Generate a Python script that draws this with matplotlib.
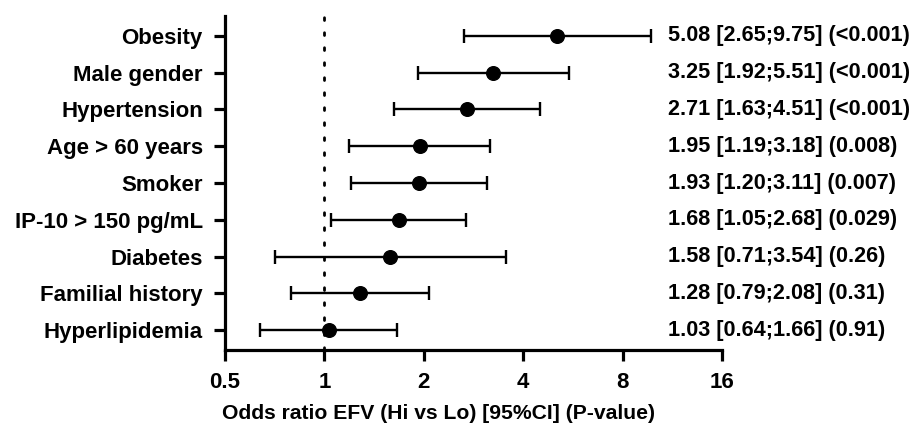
import matplotlib
matplotlib.use("Agg")
import matplotlib.pyplot as plt
import matplotlib.transforms as mtransforms
from matplotlib.ticker import FixedLocator, FixedFormatter, NullLocator

plt.rcParams['font.family'] = ['Liberation Sans', 'DejaVu Sans']
plt.rcParams['font.weight'] = 'bold'

categories = ["Obesity", "Male gender", "Hypertension", "Age > 60 years", "Smoker",
              "IP-10 > 150 pg/mL", "Diabetes", "Familial history", "Hyperlipidemia"]
odds = [5.08, 3.25, 2.71, 1.95, 1.93, 1.68, 1.58, 1.28, 1.03]
ci_low = [2.65, 1.92, 1.63, 1.19, 1.20, 1.05, 0.71, 0.79, 0.64]
ci_high = [9.75, 5.51, 4.51, 3.18, 3.11, 2.68, 3.54, 2.08, 1.66]
pvals = ["<0.001", "<0.001", "<0.001", "0.008", "0.007", "0.029", "0.26", "0.31", "0.91"]
xticks = [0.5, 1, 2, 4, 8, 16]
xtick_labels = ["0.5", "1", "2", "4", "8", "16"]

fig = plt.figure(figsize=(9.19, 4.25), dpi=100)
ax = fig.add_axes([225/919, 1-350/425, (722-225)/919, (350-16)/425])

n = len(categories)
ys = list(range(n))
ax.set_xscale('log', base=2)
ax.set_xlim(0.5, 16)
ax.set_ylim(n - 1 + 0.544, -0.544)

ax.axvline(1, color='black', lw=2.0, linestyle=(0, (1, 4.4)), dash_capstyle='round', zorder=1)

xerr = [[o - l for o, l in zip(odds, ci_low)], [h - o for o, h in zip(odds, ci_high)]]
ax.errorbar(odds, ys, xerr=xerr, fmt='o', color='black', ms=9.8, elinewidth=1.7,
            capsize=5, capthick=1.7, zorder=3)

trans = mtransforms.blended_transform_factory(ax.transAxes, ax.transData)
for y, o, l, h, p in zip(ys, odds, ci_low, ci_high, pvals):
    ax.text(0.891, y, f"{o:.2f} [{l:.2f};{h:.2f}] ({p})", transform=trans,
            ha='left', va='center', fontsize=15.6, fontweight='bold', clip_on=False)

ax.set_yticks(ys)
ax.set_yticklabels(categories, fontsize=16, fontweight='bold')
ax.xaxis.set_major_locator(FixedLocator(xticks))
ax.xaxis.set_major_formatter(FixedFormatter(xtick_labels))
ax.xaxis.set_minor_locator(NullLocator())
for lab in ax.get_xticklabels():
    lab.set_fontsize(16)
    lab.set_fontweight('bold')

ax.spines['top'].set_visible(False)
ax.spines['right'].set_visible(False)
ax.spines['left'].set_linewidth(2.3)
ax.spines['bottom'].set_linewidth(2.3)
ax.tick_params(axis='y', length=8, width=2.3, pad=8)
ax.tick_params(axis='x', length=8, width=2.3, pad=8)

ax.set_xlabel("Odds ratio EFV (Hi vs Lo) [95%CI] (P-value)", fontsize=15.2, fontweight='bold')
ax.xaxis.set_label_coords((438-225)/497, -0.162)

fig.savefig("out.png", dpi=100)
